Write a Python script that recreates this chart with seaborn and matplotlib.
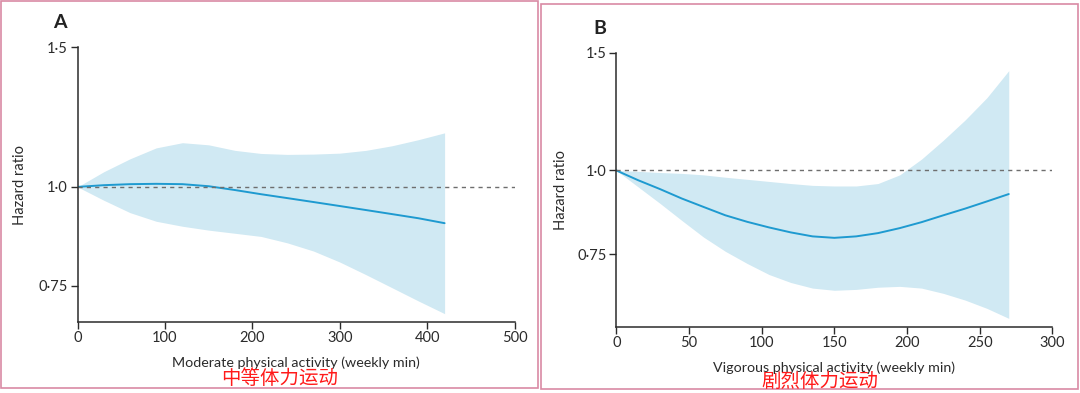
import numpy as np
import pandas as pd
import matplotlib
matplotlib.use("Agg")
import matplotlib.pyplot as plt
from matplotlib.patches import Rectangle
import seaborn as sns

# Panel A: moderate activity
mod_min = [0, 30, 60, 90, 120, 150, 180, 210, 240, 270, 300, 330, 360, 390, 420]
mod_hr = [1.0, 1.005, 1.008, 1.009, 1.008, 1.002, 0.991, 0.979, 0.968, 0.957,
          0.946, 0.935, 0.924, 0.913, 0.900]
mod_hi = [1.0, 1.045, 1.085, 1.12, 1.137, 1.13, 1.112, 1.102, 1.099, 1.100,
          1.103, 1.112, 1.127, 1.147, 1.17]
mod_lo = [1.0, 0.962, 0.928, 0.905, 0.892, 0.882, 0.874, 0.866, 0.85, 0.83,
          0.804, 0.775, 0.746, 0.718, 0.692]

# Panel B: vigorous activity
vig_min = [0, 15, 30, 45, 60, 75, 90, 105, 120, 135, 150, 165, 180, 195, 210,
           225, 240, 255, 270]
vig_hr = [1.0, 0.967, 0.938, 0.908, 0.882, 0.857, 0.838, 0.822, 0.808, 0.797,
          0.793, 0.797, 0.806, 0.820, 0.837, 0.857, 0.877, 0.899, 0.922]
vig_hi = [1.0, 0.997, 0.993, 0.99, 0.985, 0.977, 0.97, 0.963, 0.956, 0.95,
          0.948, 0.948, 0.956, 0.985, 1.04, 1.11, 1.19, 1.285, 1.41]
vig_lo = [1.0, 0.945, 0.893, 0.842, 0.795, 0.757, 0.726, 0.699, 0.68, 0.667,
          0.662, 0.664, 0.669, 0.671, 0.667, 0.655, 0.64, 0.622, 0.601]

y_ticks = [0.75, 1.0, 1.5]
y_ticklabels = ["0·75", "1·0", "1·5"]

LINE = "#1e9ad0"
FILL = "#d0e9f3"
BORDER = "#d98aa4"
INK = "#2b2b2b"

sns.set_theme(style="ticks")
plt.rcParams["font.family"] = ["Lato", "Noto Sans CJK SC", "DejaVu Sans"]
plt.rcParams["axes.edgecolor"] = INK
plt.rcParams["xtick.color"] = INK
plt.rcParams["ytick.color"] = INK

fig = plt.figure(figsize=(10.8, 3.93), dpi=100)
W, H = 1080, 393

# panel borders
fig.add_artist(Rectangle((1 / W, 1 - 388 / H), 537 / W, 387 / H,
                         transform=fig.transFigure, fill=False, ec=BORDER, lw=1.2))
fig.add_artist(Rectangle((540.5 / W, 1 - 389 / H), 537.5 / W, 385.5 / H,
                         transform=fig.transFigure, fill=False, ec=BORDER, lw=1.2))

panels = [
    dict(x=mod_min, hr=mod_hr, lo=mod_lo, hi=mod_hi, pos=[0.0718, 0.1814, 0.4046, 0.6982],
         xlim=(0, 500), xticks=[0, 100, 200, 300, 400, 500], ylim=(0.676, 1.5),
         xlabel="Moderate physical activity (weekly min)", cn="中等体力运动",
         letter="A", letter_xy=(60, 23), ylab_xy=(20, 185), xlab_y=363, cn_xy=(280, 379)),
    dict(x=vig_min, hr=vig_hr, lo=vig_lo, hi=vig_hi, pos=[0.5707, 0.1687, 0.4037, 0.6972],
         xlim=(0, 300), xticks=[0, 50, 100, 150, 200, 250, 300], ylim=(0.584, 1.5),
         xlabel="Vigorous physical activity (weekly min)", cn="剧烈体力运动",
         letter="B", letter_xy=(600, 28), ylab_xy=(561, 190), xlab_y=368, cn_xy=(820, 381)),
]

for p in panels:
    ax = fig.add_axes(p["pos"])
    df = pd.DataFrame({"minutes": p["x"], "hr": p["hr"], "lo": p["lo"], "hi": p["hi"]})
    ax.fill_between(df["minutes"], df["lo"], df["hi"], color=FILL, lw=0)
    sns.lineplot(data=df, x="minutes", y="hr", ax=ax, color=LINE, lw=1.4)
    ax.plot(p["xlim"], [1.0, 1.0], ls=(0, (3, 3)), color="#6e6e6e", lw=1.0)
    ax.set_yscale("log")
    ax.set_ylim(*p["ylim"])
    ax.set_xlim(*p["xlim"])
    ax.set_yticks(y_ticks)
    ax.set_yticklabels(y_ticklabels)
    ax.yaxis.set_minor_locator(matplotlib.ticker.NullLocator())
    ax.set_xticks(p["xticks"])
    ax.set_xticklabels([str(t) for t in p["xticks"]])
    ax.tick_params(axis="both", length=5, width=1.0, labelsize=10.5, pad=2,
                   labelcolor=INK)
    ax.set_xlabel("")
    ax.set_ylabel("")
    sns.despine(ax=ax)
    for s in ["left", "bottom"]:
        ax.spines[s].set_linewidth(1.1)
    ax.patch.set_alpha(0)

    fig.text(p["letter_xy"][0] / W, 1 - p["letter_xy"][1] / H, p["letter"],
             ha="center", va="center", fontsize=14, fontweight="bold", color="#222222")
    fig.text(p["ylab_xy"][0] / W, 1 - p["ylab_xy"][1] / H, "Hazard ratio",
             rotation=90, ha="center", va="center", fontsize=10.5, color=INK)
    cx = p["pos"][0] + p["pos"][2] / 2
    fig.text(cx, 1 - p["xlab_y"] / H, p["xlabel"], ha="center", va="center",
             fontsize=10.3, color=INK)
    fig.text(p["cn_xy"][0] / W, 1 - p["cn_xy"][1] / H, p["cn"], ha="center",
             va="center", fontsize=14, color="#ff1a1a",
             family=["Noto Sans CJK SC", "DejaVu Sans"])

fig.savefig("out.png", dpi=100, facecolor="white")
